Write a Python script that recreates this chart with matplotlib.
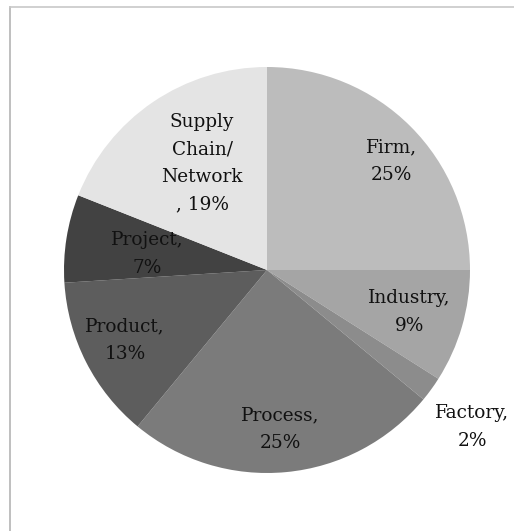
import numpy as np
import matplotlib
matplotlib.use("Agg")
import matplotlib.pyplot as plt
from matplotlib.lines import Line2D

# Share of studies by unit of analysis
categories = ["Firm", "Industry", "Factory", "Process", "Product", "Project", "Supply\nChain/\nNetwork"]
shares = [25, 9, 2, 25, 13, 7, 19]
label_texts = ["Firm,\n25%", "Industry,\n9%", "Factory,\n2%", "Process,\n25%",
               "Product,\n13%", "Project,\n7%", "Supply\nChain/\nNetwork\n, 19%"]

colors = ["#bcbcbc", "#a5a5a5", "#8c8c8c", "#7b7b7b", "#5d5d5d", "#424242", "#e4e4e4"]
# label anchor points in units of the pie radius (centre = origin)
label_xy = [(0.611, 0.537), (0.700, -0.207), (1.010, -0.773), (0.064, -0.783),
            (-0.700, -0.345), (-0.591, 0.079), (-0.320, 0.527)]

W, H = 514, 531
fig = plt.figure(figsize=(W / 100, H / 100), dpi=100)
fig.patch.set_facecolor("white")

# thin frame lines on the left and top
fig.add_artist(Line2D([10 / W, 10 / W], [0, 1 - 7 / H], transform=fig.transFigure,
                      color="#b4b4b4", lw=1.2))
fig.add_artist(Line2D([10 / W, 1], [1 - 7 / H, 1 - 7 / H], transform=fig.transFigure,
                      color="#c8c8c8", lw=1.2))

cx, cy, r = 267, 270, 203
ax = fig.add_axes([(cx - r) / W, (H - cy - r) / H, 2 * r / W, 2 * r / H])
wedges, _ = ax.pie(shares, colors=colors, startangle=90, counterclock=False,
                   radius=1.0, wedgeprops=dict(linewidth=0))
ax.set_xlim(-1, 1)
ax.set_ylim(-1, 1)
ax.set_aspect("equal")
ax.axis("off")

for txt, (x, y) in zip(label_texts, label_xy):
    ax.text(x, y, txt, ha="center", va="center",
            fontsize=13.3, family="DejaVu Serif", color="#111111",
            linespacing=1.68, clip_on=False)

fig.savefig("out.png", dpi=100, facecolor="white")
